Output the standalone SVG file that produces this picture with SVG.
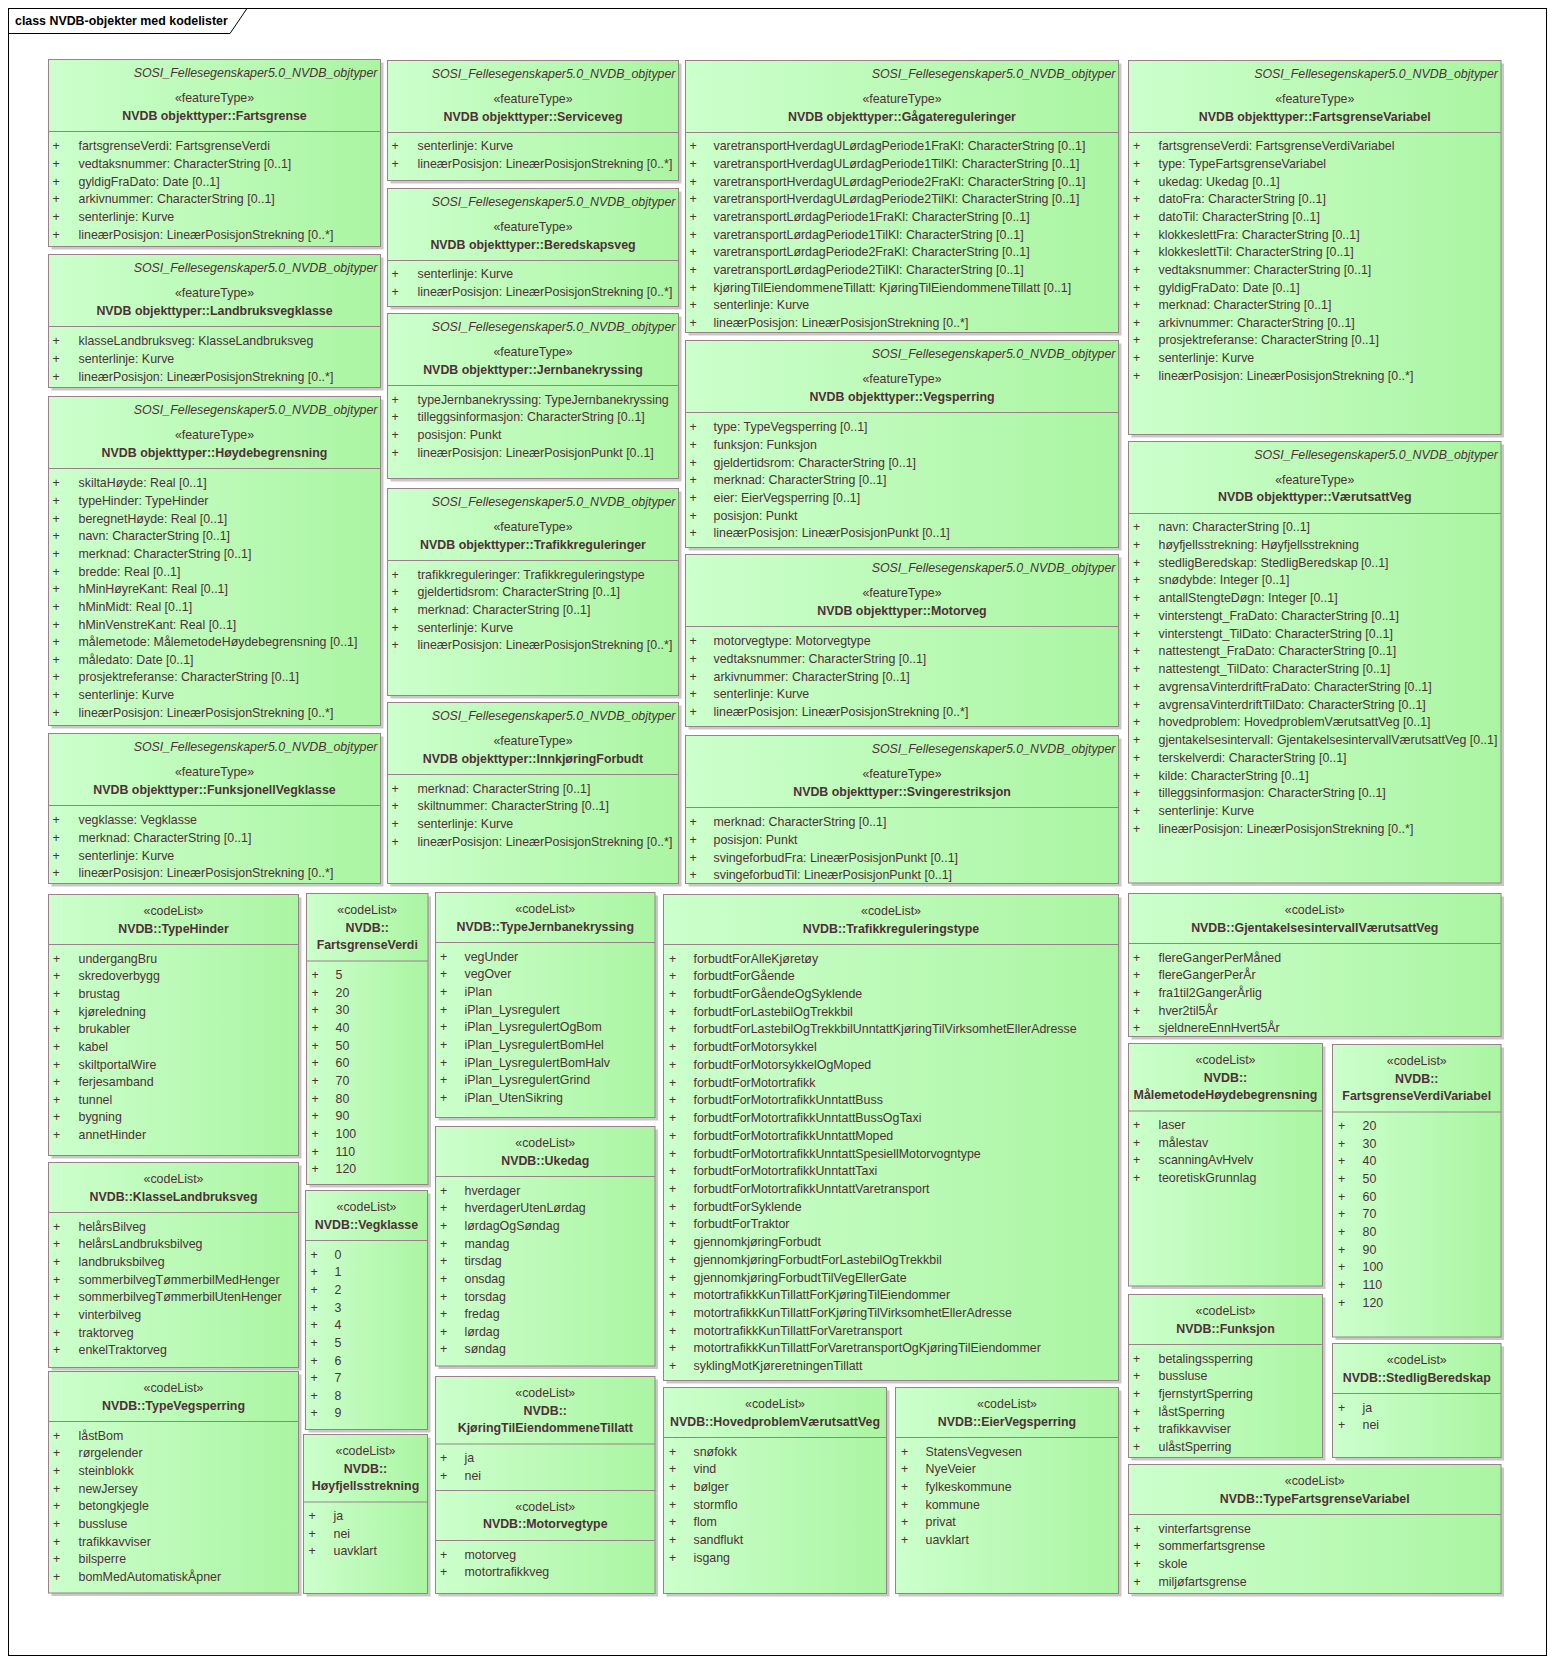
<svg xmlns="http://www.w3.org/2000/svg" width="1554" height="1665" viewBox="0 0 1554 1665">
<defs>
<linearGradient id="g" x1="0" y1="0" x2="1" y2="0">
<stop offset="0" stop-color="#ccffcc"/>
<stop offset="1" stop-color="#aaf5a2"/>
</linearGradient>
<style>
.b{fill:url(#g);stroke:#9a8088;stroke-width:1}
.s{fill:#c8c8c8}
.l{stroke:#9a8088;stroke-width:1}
text{font-family:"Liberation Sans",Arial,sans-serif;font-size:12.4px;fill:#503038}
.pk{font-style:italic;text-anchor:end}
.c{text-anchor:middle}
.n{font-weight:bold;text-anchor:middle}
.p{text-anchor:middle}
.ttl{font-weight:bold;fill:#000}
</style>
</defs>
<rect x="0" y="0" width="1554" height="1665" fill="#ffffff"/>
<g id="frame">
<rect x="8.5" y="8.5" width="1538" height="1647" fill="none" stroke="#000" stroke-width="1"/>
<path d="M8.5,33.5 H230 L247,8.5" fill="none" stroke="#000" stroke-width="1"/>
<text class="ttl" x="15" y="25">class NVDB-objekter med kodelister</text>
</g>

<g id="ft-fartsgrense" transform="translate(48.5,59.5)">
<rect class="s" x="3" y="3" width="332" height="187"/>
<rect class="b" width="332" height="187"/>
<line class="l" x1="0" y1="72" x2="332" y2="72"/>
<text class="pk" x="329" y="17.1">SOSI_Fellesegenskaper5.0_NVDB_objtyper</text>
<text class="c" x="166" y="42.8">«featureType»</text>
<text class="n" x="166" y="60.8">NVDB objekttyper::Fartsgrense</text>
<text class="p" y="90.8"><tspan x="7.5">+</tspan><tspan x="7.5" dy="17.65">+</tspan><tspan x="7.5" dy="17.65">+</tspan><tspan x="7.5" dy="17.65">+</tspan><tspan x="7.5" dy="17.65">+</tspan><tspan x="7.5" dy="17.65">+</tspan></text>
<text y="90.8"><tspan x="30">fartsgrenseVerdi: FartsgrenseVerdi</tspan><tspan x="30" dy="17.65">vedtaksnummer: CharacterString [0..1]</tspan><tspan x="30" dy="17.65">gyldigFraDato: Date [0..1]</tspan><tspan x="30" dy="17.65">arkivnummer: CharacterString [0..1]</tspan><tspan x="30" dy="17.65">senterlinje: Kurve</tspan><tspan x="30" dy="17.65">lineærPosisjon: LineærPosisjonStrekning [0..*]</tspan></text>
</g>

<g id="ft-landbruksvegklasse" transform="translate(48.5,254.5)">
<rect class="s" x="3" y="3" width="332" height="133"/>
<rect class="b" width="332" height="133"/>
<line class="l" x1="0" y1="72" x2="332" y2="72"/>
<text class="pk" x="329" y="17.1">SOSI_Fellesegenskaper5.0_NVDB_objtyper</text>
<text class="c" x="166" y="42.8">«featureType»</text>
<text class="n" x="166" y="60.8">NVDB objekttyper::Landbruksvegklasse</text>
<text class="p" y="90.8"><tspan x="7.5">+</tspan><tspan x="7.5" dy="17.65">+</tspan><tspan x="7.5" dy="17.65">+</tspan></text>
<text y="90.8"><tspan x="30">klasseLandbruksveg: KlasseLandbruksveg</tspan><tspan x="30" dy="17.65">senterlinje: Kurve</tspan><tspan x="30" dy="17.65">lineærPosisjon: LineærPosisjonStrekning [0..*]</tspan></text>
</g>

<g id="ft-hoydebegrensning" transform="translate(48.5,396.5)">
<rect class="s" x="3" y="3" width="332" height="329"/>
<rect class="b" width="332" height="329"/>
<line class="l" x1="0" y1="72" x2="332" y2="72"/>
<text class="pk" x="329" y="17.1">SOSI_Fellesegenskaper5.0_NVDB_objtyper</text>
<text class="c" x="166" y="42.8">«featureType»</text>
<text class="n" x="166" y="60.8">NVDB objekttyper::Høydebegrensning</text>
<text class="p" y="90.8"><tspan x="7.5">+</tspan><tspan x="7.5" dy="17.65">+</tspan><tspan x="7.5" dy="17.65">+</tspan><tspan x="7.5" dy="17.65">+</tspan><tspan x="7.5" dy="17.65">+</tspan><tspan x="7.5" dy="17.65">+</tspan><tspan x="7.5" dy="17.65">+</tspan><tspan x="7.5" dy="17.65">+</tspan><tspan x="7.5" dy="17.65">+</tspan><tspan x="7.5" dy="17.65">+</tspan><tspan x="7.5" dy="17.65">+</tspan><tspan x="7.5" dy="17.65">+</tspan><tspan x="7.5" dy="17.65">+</tspan><tspan x="7.5" dy="17.65">+</tspan></text>
<text y="90.8"><tspan x="30">skiltaHøyde: Real [0..1]</tspan><tspan x="30" dy="17.65">typeHinder: TypeHinder</tspan><tspan x="30" dy="17.65">beregnetHøyde: Real [0..1]</tspan><tspan x="30" dy="17.65">navn: CharacterString [0..1]</tspan><tspan x="30" dy="17.65">merknad: CharacterString [0..1]</tspan><tspan x="30" dy="17.65">bredde: Real [0..1]</tspan><tspan x="30" dy="17.65">hMinHøyreKant: Real [0..1]</tspan><tspan x="30" dy="17.65">hMinMidt: Real [0..1]</tspan><tspan x="30" dy="17.65">hMinVenstreKant: Real [0..1]</tspan><tspan x="30" dy="17.65">målemetode: MålemetodeHøydebegrensning [0..1]</tspan><tspan x="30" dy="17.65">måledato: Date [0..1]</tspan><tspan x="30" dy="17.65">prosjektreferanse: CharacterString [0..1]</tspan><tspan x="30" dy="17.65">senterlinje: Kurve</tspan><tspan x="30" dy="17.65">lineærPosisjon: LineærPosisjonStrekning [0..*]</tspan></text>
</g>

<g id="ft-funksjonellvegklasse" transform="translate(48.5,733.5)">
<rect class="s" x="3" y="3" width="332" height="150"/>
<rect class="b" width="332" height="150"/>
<line class="l" x1="0" y1="72" x2="332" y2="72"/>
<text class="pk" x="329" y="17.1">SOSI_Fellesegenskaper5.0_NVDB_objtyper</text>
<text class="c" x="166" y="42.8">«featureType»</text>
<text class="n" x="166" y="60.8">NVDB objekttyper::FunksjonellVegklasse</text>
<text class="p" y="90.8"><tspan x="7.5">+</tspan><tspan x="7.5" dy="17.65">+</tspan><tspan x="7.5" dy="17.65">+</tspan><tspan x="7.5" dy="17.65">+</tspan></text>
<text y="90.8"><tspan x="30">vegklasse: Vegklasse</tspan><tspan x="30" dy="17.65">merknad: CharacterString [0..1]</tspan><tspan x="30" dy="17.65">senterlinje: Kurve</tspan><tspan x="30" dy="17.65">lineærPosisjon: LineærPosisjonStrekning [0..*]</tspan></text>
</g>

<g id="ft-serviceveg" transform="translate(387.5,60.5)">
<rect class="s" x="3" y="3" width="291" height="120"/>
<rect class="b" width="291" height="120"/>
<line class="l" x1="0" y1="72" x2="291" y2="72"/>
<text class="pk" x="288" y="17.1">SOSI_Fellesegenskaper5.0_NVDB_objtyper</text>
<text class="c" x="145.5" y="42.8">«featureType»</text>
<text class="n" x="145.5" y="60.8">NVDB objekttyper::Serviceveg</text>
<text class="p" y="89.8"><tspan x="7.5">+</tspan><tspan x="7.5" dy="17.65">+</tspan></text>
<text y="89.8"><tspan x="30">senterlinje: Kurve</tspan><tspan x="30" dy="17.65">lineærPosisjon: LineærPosisjonStrekning [0..*]</tspan></text>
</g>

<g id="ft-beredskapsveg" transform="translate(387.5,188.5)">
<rect class="s" x="3" y="3" width="291" height="118"/>
<rect class="b" width="291" height="118"/>
<line class="l" x1="0" y1="72" x2="291" y2="72"/>
<text class="pk" x="288" y="17.1">SOSI_Fellesegenskaper5.0_NVDB_objtyper</text>
<text class="c" x="145.5" y="42.8">«featureType»</text>
<text class="n" x="145.5" y="60.8">NVDB objekttyper::Beredskapsveg</text>
<text class="p" y="89.8"><tspan x="7.5">+</tspan><tspan x="7.5" dy="17.65">+</tspan></text>
<text y="89.8"><tspan x="30">senterlinje: Kurve</tspan><tspan x="30" dy="17.65">lineærPosisjon: LineærPosisjonStrekning [0..*]</tspan></text>
</g>

<g id="ft-jernbanekryssing" transform="translate(387.5,313.5)">
<rect class="s" x="3" y="3" width="291" height="165"/>
<rect class="b" width="291" height="165"/>
<line class="l" x1="0" y1="72" x2="291" y2="72"/>
<text class="pk" x="288" y="17.1">SOSI_Fellesegenskaper5.0_NVDB_objtyper</text>
<text class="c" x="145.5" y="42.8">«featureType»</text>
<text class="n" x="145.5" y="60.8">NVDB objekttyper::Jernbanekryssing</text>
<text class="p" y="90.3"><tspan x="7.5">+</tspan><tspan x="7.5" dy="17.65">+</tspan><tspan x="7.5" dy="17.65">+</tspan><tspan x="7.5" dy="17.65">+</tspan></text>
<text y="90.3"><tspan x="30">typeJernbanekryssing: TypeJernbanekryssing</tspan><tspan x="30" dy="17.65">tilleggsinformasjon: CharacterString [0..1]</tspan><tspan x="30" dy="17.65">posisjon: Punkt</tspan><tspan x="30" dy="17.65">lineærPosisjon: LineærPosisjonPunkt [0..1]</tspan></text>
</g>

<g id="ft-trafikkreguleringer" transform="translate(387.5,488.5)">
<rect class="s" x="3" y="3" width="291" height="207"/>
<rect class="b" width="291" height="207"/>
<line class="l" x1="0" y1="72" x2="291" y2="72"/>
<text class="pk" x="288" y="17.1">SOSI_Fellesegenskaper5.0_NVDB_objtyper</text>
<text class="c" x="145.5" y="42.8">«featureType»</text>
<text class="n" x="145.5" y="60.8">NVDB objekttyper::Trafikkreguleringer</text>
<text class="p" y="90.3"><tspan x="7.5">+</tspan><tspan x="7.5" dy="17.65">+</tspan><tspan x="7.5" dy="17.65">+</tspan><tspan x="7.5" dy="17.65">+</tspan><tspan x="7.5" dy="17.65">+</tspan></text>
<text y="90.3"><tspan x="30">trafikkreguleringer: Trafikkreguleringstype</tspan><tspan x="30" dy="17.65">gjeldertidsrom: CharacterString [0..1]</tspan><tspan x="30" dy="17.65">merknad: CharacterString [0..1]</tspan><tspan x="30" dy="17.65">senterlinje: Kurve</tspan><tspan x="30" dy="17.65">lineærPosisjon: LineærPosisjonStrekning [0..*]</tspan></text>
</g>

<g id="ft-innkjoringforbudt" transform="translate(387.5,702.5)">
<rect class="s" x="3" y="3" width="291" height="181"/>
<rect class="b" width="291" height="181"/>
<line class="l" x1="0" y1="72" x2="291" y2="72"/>
<text class="pk" x="288" y="17.1">SOSI_Fellesegenskaper5.0_NVDB_objtyper</text>
<text class="c" x="145.5" y="42.8">«featureType»</text>
<text class="n" x="145.5" y="60.8">NVDB objekttyper::InnkjøringForbudt</text>
<text class="p" y="90.3"><tspan x="7.5">+</tspan><tspan x="7.5" dy="17.65">+</tspan><tspan x="7.5" dy="17.65">+</tspan><tspan x="7.5" dy="17.65">+</tspan></text>
<text y="90.3"><tspan x="30">merknad: CharacterString [0..1]</tspan><tspan x="30" dy="17.65">skiltnummer: CharacterString [0..1]</tspan><tspan x="30" dy="17.65">senterlinje: Kurve</tspan><tspan x="30" dy="17.65">lineærPosisjon: LineærPosisjonStrekning [0..*]</tspan></text>
</g>

<g id="ft-gagatereguleringer" transform="translate(685.5,60.5)">
<rect class="s" x="3" y="3" width="433" height="272"/>
<rect class="b" width="433" height="272"/>
<line class="l" x1="0" y1="72" x2="433" y2="72"/>
<text class="pk" x="430" y="17.1">SOSI_Fellesegenskaper5.0_NVDB_objtyper</text>
<text class="c" x="216.5" y="42.8">«featureType»</text>
<text class="n" x="216.5" y="60.8">NVDB objekttyper::Gågatereguleringer</text>
<text class="p" y="89.8"><tspan x="7.5">+</tspan><tspan x="7.5" dy="17.65">+</tspan><tspan x="7.5" dy="17.65">+</tspan><tspan x="7.5" dy="17.65">+</tspan><tspan x="7.5" dy="17.65">+</tspan><tspan x="7.5" dy="17.65">+</tspan><tspan x="7.5" dy="17.65">+</tspan><tspan x="7.5" dy="17.65">+</tspan><tspan x="7.5" dy="17.65">+</tspan><tspan x="7.5" dy="17.65">+</tspan><tspan x="7.5" dy="17.65">+</tspan></text>
<text y="89.8"><tspan x="28">varetransportHverdagULørdagPeriode1FraKl: CharacterString [0..1]</tspan><tspan x="28" dy="17.65">varetransportHverdagULørdagPeriode1TilKl: CharacterString [0..1]</tspan><tspan x="28" dy="17.65">varetransportHverdagULørdagPeriode2FraKl: CharacterString [0..1]</tspan><tspan x="28" dy="17.65">varetransportHverdagULørdagPeriode2TilKl: CharacterString [0..1]</tspan><tspan x="28" dy="17.65">varetransportLørdagPeriode1FraKl: CharacterString [0..1]</tspan><tspan x="28" dy="17.65">varetransportLørdagPeriode1TilKl: CharacterString [0..1]</tspan><tspan x="28" dy="17.65">varetransportLørdagPeriode2FraKl: CharacterString [0..1]</tspan><tspan x="28" dy="17.65">varetransportLørdagPeriode2TilKl: CharacterString [0..1]</tspan><tspan x="28" dy="17.65">kjøringTilEiendommeneTillatt: KjøringTilEiendommeneTillatt [0..1]</tspan><tspan x="28" dy="17.65">senterlinje: Kurve</tspan><tspan x="28" dy="17.65">lineærPosisjon: LineærPosisjonStrekning [0..*]</tspan></text>
</g>

<g id="ft-vegsperring" transform="translate(685.5,340.5)">
<rect class="s" x="3" y="3" width="433" height="207"/>
<rect class="b" width="433" height="207"/>
<line class="l" x1="0" y1="72" x2="433" y2="72"/>
<text class="pk" x="430" y="17.1">SOSI_Fellesegenskaper5.0_NVDB_objtyper</text>
<text class="c" x="216.5" y="42.8">«featureType»</text>
<text class="n" x="216.5" y="60.8">NVDB objekttyper::Vegsperring</text>
<text class="p" y="90.8"><tspan x="7.5">+</tspan><tspan x="7.5" dy="17.65">+</tspan><tspan x="7.5" dy="17.65">+</tspan><tspan x="7.5" dy="17.65">+</tspan><tspan x="7.5" dy="17.65">+</tspan><tspan x="7.5" dy="17.65">+</tspan><tspan x="7.5" dy="17.65">+</tspan></text>
<text y="90.8"><tspan x="28">type: TypeVegsperring [0..1]</tspan><tspan x="28" dy="17.65">funksjon: Funksjon</tspan><tspan x="28" dy="17.65">gjeldertidsrom: CharacterString [0..1]</tspan><tspan x="28" dy="17.65">merknad: CharacterString [0..1]</tspan><tspan x="28" dy="17.65">eier: EierVegsperring [0..1]</tspan><tspan x="28" dy="17.65">posisjon: Punkt</tspan><tspan x="28" dy="17.65">lineærPosisjon: LineærPosisjonPunkt [0..1]</tspan></text>
</g>

<g id="ft-motorveg" transform="translate(685.5,554.5)">
<rect class="s" x="3" y="3" width="433" height="172"/>
<rect class="b" width="433" height="172"/>
<line class="l" x1="0" y1="72" x2="433" y2="72"/>
<text class="pk" x="430" y="17.1">SOSI_Fellesegenskaper5.0_NVDB_objtyper</text>
<text class="c" x="216.5" y="42.8">«featureType»</text>
<text class="n" x="216.5" y="60.8">NVDB objekttyper::Motorveg</text>
<text class="p" y="90.8"><tspan x="7.5">+</tspan><tspan x="7.5" dy="17.65">+</tspan><tspan x="7.5" dy="17.65">+</tspan><tspan x="7.5" dy="17.65">+</tspan><tspan x="7.5" dy="17.65">+</tspan></text>
<text y="90.8"><tspan x="28">motorvegtype: Motorvegtype</tspan><tspan x="28" dy="17.65">vedtaksnummer: CharacterString [0..1]</tspan><tspan x="28" dy="17.65">arkivnummer: CharacterString [0..1]</tspan><tspan x="28" dy="17.65">senterlinje: Kurve</tspan><tspan x="28" dy="17.65">lineærPosisjon: LineærPosisjonStrekning [0..*]</tspan></text>
</g>

<g id="ft-svingerestriksjon" transform="translate(685.5,735.5)">
<rect class="s" x="3" y="3" width="433" height="148"/>
<rect class="b" width="433" height="148"/>
<line class="l" x1="0" y1="72" x2="433" y2="72"/>
<text class="pk" x="430" y="17.1">SOSI_Fellesegenskaper5.0_NVDB_objtyper</text>
<text class="c" x="216.5" y="42.8">«featureType»</text>
<text class="n" x="216.5" y="60.8">NVDB objekttyper::Svingerestriksjon</text>
<text class="p" y="90.8"><tspan x="7.5">+</tspan><tspan x="7.5" dy="17.65">+</tspan><tspan x="7.5" dy="17.65">+</tspan><tspan x="7.5" dy="17.65">+</tspan></text>
<text y="90.8"><tspan x="28">merknad: CharacterString [0..1]</tspan><tspan x="28" dy="17.65">posisjon: Punkt</tspan><tspan x="28" dy="17.65">svingeforbudFra: LineærPosisjonPunkt [0..1]</tspan><tspan x="28" dy="17.65">svingeforbudTil: LineærPosisjonPunkt [0..1]</tspan></text>
</g>

<g id="ft-fartsgrensevariabel" transform="translate(1128.5,60.5)">
<rect class="s" x="3" y="3" width="372.5" height="374"/>
<rect class="b" width="372.5" height="374"/>
<line class="l" x1="0" y1="72" x2="372.5" y2="72"/>
<text class="pk" x="369.5" y="17.1">SOSI_Fellesegenskaper5.0_NVDB_objtyper</text>
<text class="c" x="186.25" y="42.8">«featureType»</text>
<text class="n" x="186.25" y="60.8">NVDB objekttyper::FartsgrenseVariabel</text>
<text class="p" y="89.8"><tspan x="8">+</tspan><tspan x="8" dy="17.65">+</tspan><tspan x="8" dy="17.65">+</tspan><tspan x="8" dy="17.65">+</tspan><tspan x="8" dy="17.65">+</tspan><tspan x="8" dy="17.65">+</tspan><tspan x="8" dy="17.65">+</tspan><tspan x="8" dy="17.65">+</tspan><tspan x="8" dy="17.65">+</tspan><tspan x="8" dy="17.65">+</tspan><tspan x="8" dy="17.65">+</tspan><tspan x="8" dy="17.65">+</tspan><tspan x="8" dy="17.65">+</tspan><tspan x="8" dy="17.65">+</tspan></text>
<text y="89.8"><tspan x="30">fartsgrenseVerdi: FartsgrenseVerdiVariabel</tspan><tspan x="30" dy="17.65">type: TypeFartsgrenseVariabel</tspan><tspan x="30" dy="17.65">ukedag: Ukedag [0..1]</tspan><tspan x="30" dy="17.65">datoFra: CharacterString [0..1]</tspan><tspan x="30" dy="17.65">datoTil: CharacterString [0..1]</tspan><tspan x="30" dy="17.65">klokkeslettFra: CharacterString [0..1]</tspan><tspan x="30" dy="17.65">klokkeslettTil: CharacterString [0..1]</tspan><tspan x="30" dy="17.65">vedtaksnummer: CharacterString [0..1]</tspan><tspan x="30" dy="17.65">gyldigFraDato: Date [0..1]</tspan><tspan x="30" dy="17.65">merknad: CharacterString [0..1]</tspan><tspan x="30" dy="17.65">arkivnummer: CharacterString [0..1]</tspan><tspan x="30" dy="17.65">prosjektreferanse: CharacterString [0..1]</tspan><tspan x="30" dy="17.65">senterlinje: Kurve</tspan><tspan x="30" dy="17.65">lineærPosisjon: LineærPosisjonStrekning [0..*]</tspan></text>
</g>

<g id="ft-varutsattveg" transform="translate(1128.5,441.5)">
<rect class="s" x="3" y="3" width="372.5" height="441.5"/>
<rect class="b" width="372.5" height="441.5"/>
<line class="l" x1="0" y1="72" x2="372.5" y2="72"/>
<text class="pk" x="369.5" y="17.1">SOSI_Fellesegenskaper5.0_NVDB_objtyper</text>
<text class="c" x="186.25" y="42.3">«featureType»</text>
<text class="n" x="186.25" y="59.8">NVDB objekttyper::VærutsattVeg</text>
<text class="p" y="89.5"><tspan x="8">+</tspan><tspan x="8" dy="17.75">+</tspan><tspan x="8" dy="17.75">+</tspan><tspan x="8" dy="17.75">+</tspan><tspan x="8" dy="17.75">+</tspan><tspan x="8" dy="17.75">+</tspan><tspan x="8" dy="17.75">+</tspan><tspan x="8" dy="17.75">+</tspan><tspan x="8" dy="17.75">+</tspan><tspan x="8" dy="17.75">+</tspan><tspan x="8" dy="17.75">+</tspan><tspan x="8" dy="17.75">+</tspan><tspan x="8" dy="17.75">+</tspan><tspan x="8" dy="17.75">+</tspan><tspan x="8" dy="17.75">+</tspan><tspan x="8" dy="17.75">+</tspan><tspan x="8" dy="17.75">+</tspan><tspan x="8" dy="17.75">+</tspan></text>
<text y="89.5"><tspan x="30">navn: CharacterString [0..1]</tspan><tspan x="30" dy="17.75">høyfjellsstrekning: Høyfjellsstrekning</tspan><tspan x="30" dy="17.75">stedligBeredskap: StedligBeredskap [0..1]</tspan><tspan x="30" dy="17.75">snødybde: Integer [0..1]</tspan><tspan x="30" dy="17.75">antallStengteDøgn: Integer [0..1]</tspan><tspan x="30" dy="17.75">vinterstengt_FraDato: CharacterString [0..1]</tspan><tspan x="30" dy="17.75">vinterstengt_TilDato: CharacterString [0..1]</tspan><tspan x="30" dy="17.75">nattestengt_FraDato: CharacterString [0..1]</tspan><tspan x="30" dy="17.75">nattestengt_TilDato: CharacterString [0..1]</tspan><tspan x="30" dy="17.75">avgrensaVinterdriftFraDato: CharacterString [0..1]</tspan><tspan x="30" dy="17.75">avgrensaVinterdriftTilDato: CharacterString [0..1]</tspan><tspan x="30" dy="17.75">hovedproblem: HovedproblemVærutsattVeg [0..1]</tspan><tspan x="30" dy="17.75">gjentakelsesintervall: GjentakelsesintervallVærutsattVeg [0..1]</tspan><tspan x="30" dy="17.75">terskelverdi: CharacterString [0..1]</tspan><tspan x="30" dy="17.75">kilde: CharacterString [0..1]</tspan><tspan x="30" dy="17.75">tilleggsinformasjon: CharacterString [0..1]</tspan><tspan x="30" dy="17.75">senterlinje: Kurve</tspan><tspan x="30" dy="17.75">lineærPosisjon: LineærPosisjonStrekning [0..*]</tspan></text>
</g>

<g id="cl-typehinder" transform="translate(48.5,894.5)">
<rect class="s" x="3" y="3" width="250" height="261"/>
<rect class="b" width="250" height="261"/>
<line class="l" x1="0" y1="50" x2="250" y2="50"/>
<text class="c" x="125" y="20.8">«codeList»</text>
<text class="n" x="125" y="38.3">NVDB::TypeHinder</text>
<text class="p" y="68.1"><tspan x="8">+</tspan><tspan x="8" dy="17.65">+</tspan><tspan x="8" dy="17.65">+</tspan><tspan x="8" dy="17.65">+</tspan><tspan x="8" dy="17.65">+</tspan><tspan x="8" dy="17.65">+</tspan><tspan x="8" dy="17.65">+</tspan><tspan x="8" dy="17.65">+</tspan><tspan x="8" dy="17.65">+</tspan><tspan x="8" dy="17.65">+</tspan><tspan x="8" dy="17.65">+</tspan></text>
<text y="68.1"><tspan x="30">undergangBru</tspan><tspan x="30" dy="17.65">skredoverbygg</tspan><tspan x="30" dy="17.65">brustag</tspan><tspan x="30" dy="17.65">kjøreledning</tspan><tspan x="30" dy="17.65">brukabler</tspan><tspan x="30" dy="17.65">kabel</tspan><tspan x="30" dy="17.65">skiltportalWire</tspan><tspan x="30" dy="17.65">ferjesamband</tspan><tspan x="30" dy="17.65">tunnel</tspan><tspan x="30" dy="17.65">bygning</tspan><tspan x="30" dy="17.65">annetHinder</tspan></text>
</g>

<g id="cl-klasselandbruksveg" transform="translate(48.5,1162.5)">
<rect class="s" x="3" y="3" width="250" height="205"/>
<rect class="b" width="250" height="205"/>
<line class="l" x1="0" y1="50" x2="250" y2="50"/>
<text class="c" x="125" y="20.8">«codeList»</text>
<text class="n" x="125" y="38.3">NVDB::KlasseLandbruksveg</text>
<text class="p" y="68.1"><tspan x="8">+</tspan><tspan x="8" dy="17.65">+</tspan><tspan x="8" dy="17.65">+</tspan><tspan x="8" dy="17.65">+</tspan><tspan x="8" dy="17.65">+</tspan><tspan x="8" dy="17.65">+</tspan><tspan x="8" dy="17.65">+</tspan><tspan x="8" dy="17.65">+</tspan></text>
<text y="68.1"><tspan x="30">helårsBilveg</tspan><tspan x="30" dy="17.65">helårsLandbruksbilveg</tspan><tspan x="30" dy="17.65">landbruksbilveg</tspan><tspan x="30" dy="17.65">sommerbilvegTømmerbilMedHenger</tspan><tspan x="30" dy="17.65">sommerbilvegTømmerbilUtenHenger</tspan><tspan x="30" dy="17.65">vinterbilveg</tspan><tspan x="30" dy="17.65">traktorveg</tspan><tspan x="30" dy="17.65">enkelTraktorveg</tspan></text>
</g>

<g id="cl-typevegsperring" transform="translate(48.5,1371.5)">
<rect class="s" x="3" y="3" width="250" height="221.5"/>
<rect class="b" width="250" height="221.5"/>
<line class="l" x1="0" y1="50" x2="250" y2="50"/>
<text class="c" x="125" y="20.8">«codeList»</text>
<text class="n" x="125" y="38.3">NVDB::TypeVegsperring</text>
<text class="p" y="68.1"><tspan x="8">+</tspan><tspan x="8" dy="17.65">+</tspan><tspan x="8" dy="17.65">+</tspan><tspan x="8" dy="17.65">+</tspan><tspan x="8" dy="17.65">+</tspan><tspan x="8" dy="17.65">+</tspan><tspan x="8" dy="17.65">+</tspan><tspan x="8" dy="17.65">+</tspan><tspan x="8" dy="17.65">+</tspan></text>
<text y="68.1"><tspan x="30">låstBom</tspan><tspan x="30" dy="17.65">rørgelender</tspan><tspan x="30" dy="17.65">steinblokk</tspan><tspan x="30" dy="17.65">newJersey</tspan><tspan x="30" dy="17.65">betongkjegle</tspan><tspan x="30" dy="17.65">bussluse</tspan><tspan x="30" dy="17.65">trafikkavviser</tspan><tspan x="30" dy="17.65">bilsperre</tspan><tspan x="30" dy="17.65">bomMedAutomatiskÅpner</tspan></text>
</g>

<g id="cl-fartsgrenseverdi" transform="translate(306.5,893.5)">
<rect class="s" x="3" y="3" width="121.5" height="291"/>
<rect class="b" width="121.5" height="291"/>
<line class="l" x1="0" y1="67.5" x2="121.5" y2="67.5"/>
<text class="c" x="60.75" y="20.8">«codeList»</text>
<text class="n" x="60.75" y="38.3">NVDB::</text>
<text class="n" x="60.75" y="55.8">FartsgrenseVerdi</text>
<text class="p" y="85.6"><tspan x="8.5">+</tspan><tspan x="8.5" dy="17.65">+</tspan><tspan x="8.5" dy="17.65">+</tspan><tspan x="8.5" dy="17.65">+</tspan><tspan x="8.5" dy="17.65">+</tspan><tspan x="8.5" dy="17.65">+</tspan><tspan x="8.5" dy="17.65">+</tspan><tspan x="8.5" dy="17.65">+</tspan><tspan x="8.5" dy="17.65">+</tspan><tspan x="8.5" dy="17.65">+</tspan><tspan x="8.5" dy="17.65">+</tspan><tspan x="8.5" dy="17.65">+</tspan></text>
<text y="85.6"><tspan x="29">5</tspan><tspan x="29" dy="17.65">20</tspan><tspan x="29" dy="17.65">30</tspan><tspan x="29" dy="17.65">40</tspan><tspan x="29" dy="17.65">50</tspan><tspan x="29" dy="17.65">60</tspan><tspan x="29" dy="17.65">70</tspan><tspan x="29" dy="17.65">80</tspan><tspan x="29" dy="17.65">90</tspan><tspan x="29" dy="17.65">100</tspan><tspan x="29" dy="17.65">110</tspan><tspan x="29" dy="17.65">120</tspan></text>
</g>

<g id="cl-vegklasse" transform="translate(305.5,1190.5)">
<rect class="s" x="3" y="3" width="122" height="239"/>
<rect class="b" width="122" height="239"/>
<line class="l" x1="0" y1="50" x2="122" y2="50"/>
<text class="c" x="61" y="20.8">«codeList»</text>
<text class="n" x="61" y="38.3">NVDB::Vegklasse</text>
<text class="p" y="68.1"><tspan x="8.5">+</tspan><tspan x="8.5" dy="17.65">+</tspan><tspan x="8.5" dy="17.65">+</tspan><tspan x="8.5" dy="17.65">+</tspan><tspan x="8.5" dy="17.65">+</tspan><tspan x="8.5" dy="17.65">+</tspan><tspan x="8.5" dy="17.65">+</tspan><tspan x="8.5" dy="17.65">+</tspan><tspan x="8.5" dy="17.65">+</tspan><tspan x="8.5" dy="17.65">+</tspan></text>
<text y="68.1"><tspan x="29">0</tspan><tspan x="29" dy="17.65">1</tspan><tspan x="29" dy="17.65">2</tspan><tspan x="29" dy="17.65">3</tspan><tspan x="29" dy="17.65">4</tspan><tspan x="29" dy="17.65">5</tspan><tspan x="29" dy="17.65">6</tspan><tspan x="29" dy="17.65">7</tspan><tspan x="29" dy="17.65">8</tspan><tspan x="29" dy="17.65">9</tspan></text>
</g>

<g id="cl-hoyfjellsstrekning" transform="translate(303.5,1434.5)">
<rect class="s" x="3" y="3" width="124" height="159"/>
<rect class="b" width="124" height="159"/>
<line class="l" x1="0" y1="67.5" x2="124" y2="67.5"/>
<text class="c" x="62" y="20.8">«codeList»</text>
<text class="n" x="62" y="38.3">NVDB::</text>
<text class="n" x="62" y="55.8">Høyfjellsstrekning</text>
<text class="p" y="85.6"><tspan x="8.5">+</tspan><tspan x="8.5" dy="17.65">+</tspan><tspan x="8.5" dy="17.65">+</tspan></text>
<text y="85.6"><tspan x="30">ja</tspan><tspan x="30" dy="17.65">nei</tspan><tspan x="30" dy="17.65">uavklart</tspan></text>
</g>

<g id="cl-typejernbanekryssing" transform="translate(435.5,892.5)">
<rect class="s" x="3" y="3" width="219.5" height="225"/>
<rect class="b" width="219.5" height="225"/>
<line class="l" x1="0" y1="50" x2="219.5" y2="50"/>
<text class="c" x="109.75" y="20.8">«codeList»</text>
<text class="n" x="109.75" y="38.3">NVDB::TypeJernbanekryssing</text>
<text class="p" y="68.1"><tspan x="8">+</tspan><tspan x="8" dy="17.65">+</tspan><tspan x="8" dy="17.65">+</tspan><tspan x="8" dy="17.65">+</tspan><tspan x="8" dy="17.65">+</tspan><tspan x="8" dy="17.65">+</tspan><tspan x="8" dy="17.65">+</tspan><tspan x="8" dy="17.65">+</tspan><tspan x="8" dy="17.65">+</tspan></text>
<text y="68.1"><tspan x="29">vegUnder</tspan><tspan x="29" dy="17.65">vegOver</tspan><tspan x="29" dy="17.65">iPlan</tspan><tspan x="29" dy="17.65">iPlan_Lysregulert</tspan><tspan x="29" dy="17.65">iPlan_LysregulertOgBom</tspan><tspan x="29" dy="17.65">iPlan_LysregulertBomHel</tspan><tspan x="29" dy="17.65">iPlan_LysregulertBomHalv</tspan><tspan x="29" dy="17.65">iPlan_LysregulertGrind</tspan><tspan x="29" dy="17.65">iPlan_UtenSikring</tspan></text>
</g>

<g id="cl-ukedag" transform="translate(435.5,1126.5)">
<rect class="s" x="3" y="3" width="219.5" height="239.5"/>
<rect class="b" width="219.5" height="239.5"/>
<line class="l" x1="0" y1="50" x2="219.5" y2="50"/>
<text class="c" x="109.75" y="20.8">«codeList»</text>
<text class="n" x="109.75" y="38.3">NVDB::Ukedag</text>
<text class="p" y="68.1"><tspan x="8">+</tspan><tspan x="8" dy="17.65">+</tspan><tspan x="8" dy="17.65">+</tspan><tspan x="8" dy="17.65">+</tspan><tspan x="8" dy="17.65">+</tspan><tspan x="8" dy="17.65">+</tspan><tspan x="8" dy="17.65">+</tspan><tspan x="8" dy="17.65">+</tspan><tspan x="8" dy="17.65">+</tspan><tspan x="8" dy="17.65">+</tspan></text>
<text y="68.1"><tspan x="29">hverdager</tspan><tspan x="29" dy="17.65">hverdagerUtenLørdag</tspan><tspan x="29" dy="17.65">lørdagOgSøndag</tspan><tspan x="29" dy="17.65">mandag</tspan><tspan x="29" dy="17.65">tirsdag</tspan><tspan x="29" dy="17.65">onsdag</tspan><tspan x="29" dy="17.65">torsdag</tspan><tspan x="29" dy="17.65">fredag</tspan><tspan x="29" dy="17.65">lørdag</tspan><tspan x="29" dy="17.65">søndag</tspan></text>
</g>

<g id="cl-kjoringtileiendommenetillatt" transform="translate(435.5,1376.5)">
<rect class="s" x="3" y="3" width="219.5" height="114"/>
<rect class="b" width="219.5" height="114"/>
<line class="l" x1="0" y1="67.5" x2="219.5" y2="67.5"/>
<text class="c" x="109.75" y="20.8">«codeList»</text>
<text class="n" x="109.75" y="38.3">NVDB::</text>
<text class="n" x="109.75" y="55.8">KjøringTilEiendommeneTillatt</text>
<text class="p" y="85.6"><tspan x="8">+</tspan><tspan x="8" dy="17.65">+</tspan></text>
<text y="85.6"><tspan x="29">ja</tspan><tspan x="29" dy="17.65">nei</tspan></text>
</g>

<g id="cl-motorvegtype" transform="translate(435.5,1490.5)">
<rect class="s" x="3" y="3" width="219.5" height="103"/>
<rect class="b" width="219.5" height="103"/>
<line class="l" x1="0" y1="50" x2="219.5" y2="50"/>
<text class="c" x="109.75" y="20.3">«codeList»</text>
<text class="n" x="109.75" y="37.8">NVDB::Motorvegtype</text>
<text class="p" y="68.1"><tspan x="8">+</tspan><tspan x="8" dy="17.65">+</tspan></text>
<text y="68.1"><tspan x="29">motorveg</tspan><tspan x="29" dy="17.65">motortrafikkveg</tspan></text>
</g>

<g id="cl-trafikkreguleringstype" transform="translate(663.5,894.5)">
<rect class="s" x="3" y="3" width="455" height="486"/>
<rect class="b" width="455" height="486"/>
<line class="l" x1="0" y1="50" x2="455" y2="50"/>
<text class="c" x="227.5" y="20.8">«codeList»</text>
<text class="n" x="227.5" y="38.3">NVDB::Trafikkreguleringstype</text>
<text class="p" y="68.1"><tspan x="9">+</tspan><tspan x="9" dy="17.72">+</tspan><tspan x="9" dy="17.72">+</tspan><tspan x="9" dy="17.72">+</tspan><tspan x="9" dy="17.72">+</tspan><tspan x="9" dy="17.72">+</tspan><tspan x="9" dy="17.72">+</tspan><tspan x="9" dy="17.72">+</tspan><tspan x="9" dy="17.72">+</tspan><tspan x="9" dy="17.72">+</tspan><tspan x="9" dy="17.72">+</tspan><tspan x="9" dy="17.72">+</tspan><tspan x="9" dy="17.72">+</tspan><tspan x="9" dy="17.72">+</tspan><tspan x="9" dy="17.72">+</tspan><tspan x="9" dy="17.72">+</tspan><tspan x="9" dy="17.72">+</tspan><tspan x="9" dy="17.72">+</tspan><tspan x="9" dy="17.72">+</tspan><tspan x="9" dy="17.72">+</tspan><tspan x="9" dy="17.72">+</tspan><tspan x="9" dy="17.72">+</tspan><tspan x="9" dy="17.72">+</tspan><tspan x="9" dy="17.72">+</tspan></text>
<text y="68.1"><tspan x="30">forbudtForAlleKjøretøy</tspan><tspan x="30" dy="17.72">forbudtForGående</tspan><tspan x="30" dy="17.72">forbudtForGåendeOgSyklende</tspan><tspan x="30" dy="17.72">forbudtForLastebilOgTrekkbil</tspan><tspan x="30" dy="17.72">forbudtForLastebilOgTrekkbilUnntattKjøringTilVirksomhetEllerAdresse</tspan><tspan x="30" dy="17.72">forbudtForMotorsykkel</tspan><tspan x="30" dy="17.72">forbudtForMotorsykkelOgMoped</tspan><tspan x="30" dy="17.72">forbudtForMotortrafikk</tspan><tspan x="30" dy="17.72">forbudtForMotortrafikkUnntattBuss</tspan><tspan x="30" dy="17.72">forbudtForMotortrafikkUnntattBussOgTaxi</tspan><tspan x="30" dy="17.72">forbudtForMotortrafikkUnntattMoped</tspan><tspan x="30" dy="17.72">forbudtForMotortrafikkUnntattSpesiellMotorvogntype</tspan><tspan x="30" dy="17.72">forbudtForMotortrafikkUnntattTaxi</tspan><tspan x="30" dy="17.72">forbudtForMotortrafikkUnntattVaretransport</tspan><tspan x="30" dy="17.72">forbudtForSyklende</tspan><tspan x="30" dy="17.72">forbudtForTraktor</tspan><tspan x="30" dy="17.72">gjennomkjøringForbudt</tspan><tspan x="30" dy="17.72">gjennomkjøringForbudtForLastebilOgTrekkbil</tspan><tspan x="30" dy="17.72">gjennomkjøringForbudtTilVegEllerGate</tspan><tspan x="30" dy="17.72">motortrafikkKunTillattForKjøringTilEiendommer</tspan><tspan x="30" dy="17.72">motortrafikkKunTillattForKjøringTilVirksomhetEllerAdresse</tspan><tspan x="30" dy="17.72">motortrafikkKunTillattForVaretransport</tspan><tspan x="30" dy="17.72">motortrafikkKunTillattForVaretransportOgKjøringTilEiendommer</tspan><tspan x="30" dy="17.72">syklingMotKjøreretningenTillatt</tspan></text>
</g>

<g id="cl-hovedproblemvarutsattveg" transform="translate(663.5,1387.5)">
<rect class="s" x="3" y="3" width="223" height="206"/>
<rect class="b" width="223" height="206"/>
<line class="l" x1="0" y1="50" x2="223" y2="50"/>
<text class="c" x="111.5" y="20.8">«codeList»</text>
<text class="n" x="111.5" y="38.3">NVDB::HovedproblemVærutsattVeg</text>
<text class="p" y="68.1"><tspan x="9">+</tspan><tspan x="9" dy="17.65">+</tspan><tspan x="9" dy="17.65">+</tspan><tspan x="9" dy="17.65">+</tspan><tspan x="9" dy="17.65">+</tspan><tspan x="9" dy="17.65">+</tspan><tspan x="9" dy="17.65">+</tspan></text>
<text y="68.1"><tspan x="30">snøfokk</tspan><tspan x="30" dy="17.65">vind</tspan><tspan x="30" dy="17.65">bølger</tspan><tspan x="30" dy="17.65">stormflo</tspan><tspan x="30" dy="17.65">flom</tspan><tspan x="30" dy="17.65">sandflukt</tspan><tspan x="30" dy="17.65">isgang</tspan></text>
</g>

<g id="cl-eiervegsperring" transform="translate(895.5,1387.5)">
<rect class="s" x="3" y="3" width="223" height="206"/>
<rect class="b" width="223" height="206"/>
<line class="l" x1="0" y1="50" x2="223" y2="50"/>
<text class="c" x="111.5" y="20.8">«codeList»</text>
<text class="n" x="111.5" y="38.3">NVDB::EierVegsperring</text>
<text class="p" y="68.1"><tspan x="9">+</tspan><tspan x="9" dy="17.65">+</tspan><tspan x="9" dy="17.65">+</tspan><tspan x="9" dy="17.65">+</tspan><tspan x="9" dy="17.65">+</tspan><tspan x="9" dy="17.65">+</tspan></text>
<text y="68.1"><tspan x="30">StatensVegvesen</tspan><tspan x="30" dy="17.65">NyeVeier</tspan><tspan x="30" dy="17.65">fylkeskommune</tspan><tspan x="30" dy="17.65">kommune</tspan><tspan x="30" dy="17.65">privat</tspan><tspan x="30" dy="17.65">uavklart</tspan></text>
</g>

<g id="cl-gjentakelsesintervallvarutsattveg" transform="translate(1128.5,893.5)">
<rect class="s" x="3" y="3" width="372.5" height="143"/>
<rect class="b" width="372.5" height="143"/>
<line class="l" x1="0" y1="50" x2="372.5" y2="50"/>
<text class="c" x="186.25" y="20.8">«codeList»</text>
<text class="n" x="186.25" y="38.3">NVDB::GjentakelsesintervallVærutsattVeg</text>
<text class="p" y="68.1"><tspan x="8">+</tspan><tspan x="8" dy="17.65">+</tspan><tspan x="8" dy="17.65">+</tspan><tspan x="8" dy="17.65">+</tspan><tspan x="8" dy="17.65">+</tspan></text>
<text y="68.1"><tspan x="30">flereGangerPerMåned</tspan><tspan x="30" dy="17.65">flereGangerPerÅr</tspan><tspan x="30" dy="17.65">fra1til2GangerÅrlig</tspan><tspan x="30" dy="17.65">hver2til5År</tspan><tspan x="30" dy="17.65">sjeldnereEnnHvert5År</tspan></text>
</g>

<g id="cl-malemetodehoydebegrensning" transform="translate(1128.5,1043.5)">
<rect class="s" x="3" y="3" width="194" height="242.5"/>
<rect class="b" width="194" height="242.5"/>
<line class="l" x1="0" y1="67.5" x2="194" y2="67.5"/>
<text class="c" x="97" y="20.8">«codeList»</text>
<text class="n" x="97" y="38.3">NVDB::</text>
<text class="n" x="97" y="55.8">MålemetodeHøydebegrensning</text>
<text class="p" y="85.6"><tspan x="8">+</tspan><tspan x="8" dy="17.65">+</tspan><tspan x="8" dy="17.65">+</tspan><tspan x="8" dy="17.65">+</tspan></text>
<text y="85.6"><tspan x="30">laser</tspan><tspan x="30" dy="17.65">målestav</tspan><tspan x="30" dy="17.65">scanningAvHvelv</tspan><tspan x="30" dy="17.65">teoretiskGrunnlag</tspan></text>
</g>

<g id="cl-fartsgrenseverdivariabel" transform="translate(1332.5,1044.5)">
<rect class="s" x="3" y="3" width="168.5" height="292.5"/>
<rect class="b" width="168.5" height="292.5"/>
<line class="l" x1="0" y1="67.5" x2="168.5" y2="67.5"/>
<text class="c" x="84.25" y="20.8">«codeList»</text>
<text class="n" x="84.25" y="38.3">NVDB::</text>
<text class="n" x="84.25" y="55.8">FartsgrenseVerdiVariabel</text>
<text class="p" y="85.6"><tspan x="9">+</tspan><tspan x="9" dy="17.65">+</tspan><tspan x="9" dy="17.65">+</tspan><tspan x="9" dy="17.65">+</tspan><tspan x="9" dy="17.65">+</tspan><tspan x="9" dy="17.65">+</tspan><tspan x="9" dy="17.65">+</tspan><tspan x="9" dy="17.65">+</tspan><tspan x="9" dy="17.65">+</tspan><tspan x="9" dy="17.65">+</tspan><tspan x="9" dy="17.65">+</tspan></text>
<text y="85.6"><tspan x="30">20</tspan><tspan x="30" dy="17.65">30</tspan><tspan x="30" dy="17.65">40</tspan><tspan x="30" dy="17.65">50</tspan><tspan x="30" dy="17.65">60</tspan><tspan x="30" dy="17.65">70</tspan><tspan x="30" dy="17.65">80</tspan><tspan x="30" dy="17.65">90</tspan><tspan x="30" dy="17.65">100</tspan><tspan x="30" dy="17.65">110</tspan><tspan x="30" dy="17.65">120</tspan></text>
</g>

<g id="cl-funksjon" transform="translate(1128.5,1294.5)">
<rect class="s" x="3" y="3" width="194" height="163"/>
<rect class="b" width="194" height="163"/>
<line class="l" x1="0" y1="50" x2="194" y2="50"/>
<text class="c" x="97" y="20.8">«codeList»</text>
<text class="n" x="97" y="38.3">NVDB::Funksjon</text>
<text class="p" y="68.1"><tspan x="8">+</tspan><tspan x="8" dy="17.65">+</tspan><tspan x="8" dy="17.65">+</tspan><tspan x="8" dy="17.65">+</tspan><tspan x="8" dy="17.65">+</tspan><tspan x="8" dy="17.65">+</tspan></text>
<text y="68.1"><tspan x="30">betalingssperring</tspan><tspan x="30" dy="17.65">bussluse</tspan><tspan x="30" dy="17.65">fjernstyrtSperring</tspan><tspan x="30" dy="17.65">låstSperring</tspan><tspan x="30" dy="17.65">trafikkavviser</tspan><tspan x="30" dy="17.65">ulåstSperring</tspan></text>
</g>

<g id="cl-stedligberedskap" transform="translate(1332.5,1343.5)">
<rect class="s" x="3" y="3" width="168.5" height="114"/>
<rect class="b" width="168.5" height="114"/>
<line class="l" x1="0" y1="50" x2="168.5" y2="50"/>
<text class="c" x="84.25" y="20.8">«codeList»</text>
<text class="n" x="84.25" y="38.3">NVDB::StedligBeredskap</text>
<text class="p" y="68.1"><tspan x="9">+</tspan><tspan x="9" dy="17.65">+</tspan></text>
<text y="68.1"><tspan x="30">ja</tspan><tspan x="30" dy="17.65">nei</tspan></text>
</g>

<g id="cl-typefartsgrensevariabel" transform="translate(1128.5,1464.5)">
<rect class="s" x="3" y="3" width="372.5" height="129"/>
<rect class="b" width="372.5" height="129"/>
<line class="l" x1="0" y1="50" x2="372.5" y2="50"/>
<text class="c" x="186.25" y="20.8">«codeList»</text>
<text class="n" x="186.25" y="38.3">NVDB::TypeFartsgrenseVariabel</text>
<text class="p" y="68.1"><tspan x="8.5">+</tspan><tspan x="8.5" dy="17.65">+</tspan><tspan x="8.5" dy="17.65">+</tspan><tspan x="8.5" dy="17.65">+</tspan></text>
<text y="68.1"><tspan x="30">vinterfartsgrense</tspan><tspan x="30" dy="17.65">sommerfartsgrense</tspan><tspan x="30" dy="17.65">skole</tspan><tspan x="30" dy="17.65">miljøfartsgrense</tspan></text>
</g>
</svg>
